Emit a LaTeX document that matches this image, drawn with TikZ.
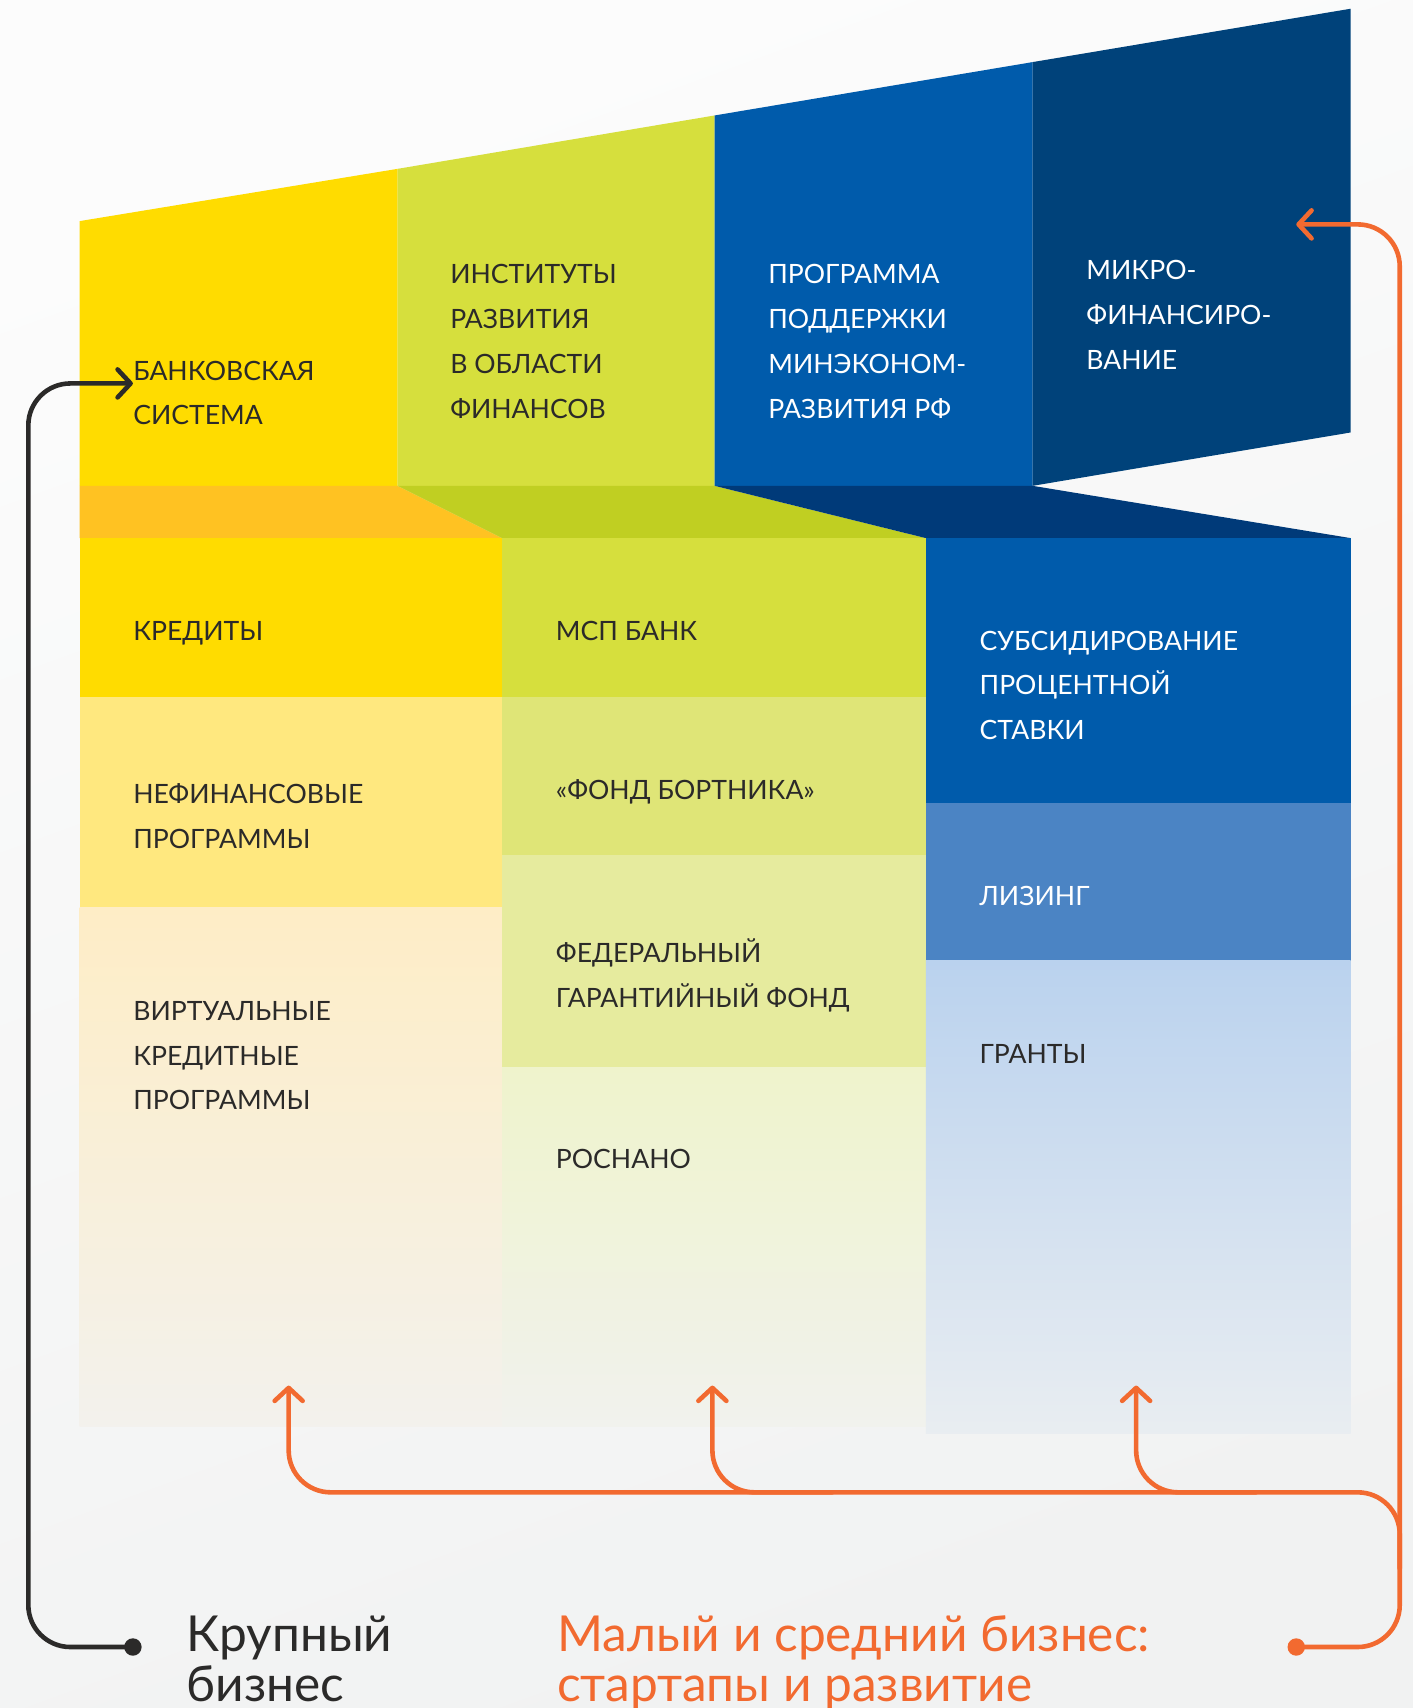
\documentclass[tikz,border=0pt]{standalone}
\usepackage{fontspec}
\setmainfont{Lato}
\usetikzlibrary{arrows.meta,calc}

\definecolor{ink}{HTML}{2B2A29}
\definecolor{accent}{HTML}{F26A30}
\definecolor{bgtop}{HTML}{FCFCFC}
\definecolor{bgbottom}{HTML}{F1F2F2}
\definecolor{bankcol}{HTML}{FFDC00}
\definecolor{bankband}{HTML}{FFC222}
\definecolor{instcol}{HTML}{D6DF3D}
\definecolor{instband}{HTML}{C0CF22}
\definecolor{progcol}{HTML}{005BAB}
\definecolor{progband}{HTML}{003A79}
\definecolor{microcol}{HTML}{00427A}
\definecolor{nonfincol}{HTML}{FFE87F}
\definecolor{virtcol}{HTML}{FEEDC6}
\definecolor{fundcol}{HTML}{DFE577}
\definecolor{fedcol}{HTML}{E6EB9E}
\definecolor{nanocol}{HTML}{EFF3CC}
\definecolor{leasecol}{HTML}{4B84C4}
\definecolor{grantcol}{HTML}{BAD2EE}

% nodes are placed by the baseline of their last line
\tikzset{
  boxtext/.style={anchor=base west, inner sep=0pt, align=left, text=ink,
    font=\fontsize{13.3}{22.4}\selectfont},
  whitetext/.style={boxtext, text=white},
  bigtext/.style={anchor=base west, inner sep=0pt, align=left,
    font=\fontsize{24.8}{25}\selectfont},
  track/.style={line width=2.3pt, rounded corners=21pt, line cap=round,
    line join=round},
  tip/.style={-{Straight Barb[length=6.5pt, width=14pt, round]}},
  tipback/.style={{Straight Barb[length=6.5pt, width=14pt, round]}-}
}

\begin{document}
\begin{tikzpicture}[x=0.5447pt, y=-0.5447pt]
  \useasboundingbox (0,0) rectangle (1297,1568);
  % background
  \shade[top color=bgtop, bottom color=bgbottom, shading angle=20]
    (0,0) rectangle (1297,1568);

  % upper panels
  \fill[bankcol] (73,203) -- (365,155) -- (365,446) -- (73,446) -- cycle;
  \fill[instcol] (365,155) -- (656,106) -- (656,446) -- (365,446) -- cycle;
  \fill[progcol] (656,106) -- (948,57) -- (948,446) -- (656,446) -- cycle;
  \fill[microcol] (948,57) -- (1240,8) -- (1240,397) -- (948,446) -- cycle;

  % folded bands
  \fill[bankband] (73,446) -- (365,446) -- (461,494) -- (73,494) -- cycle;
  \fill[instband] (365,446) -- (656,446) -- (850,494) -- (461,494) -- cycle;
  \fill[progband] (656,446) -- (948,446) -- (1240,494) -- (850,494) -- cycle;

  % lower columns
  \fill[bankcol] (73,494) rectangle (461,640);
  \fill[nonfincol] (73,640) rectangle (461,833);
  \shade[top color=virtcol, bottom color=bgbottom!88!virtcol]
    (73,833) rectangle (461,1310);
  \fill[instcol] (461,494) rectangle (850,640);
  \fill[fundcol] (461,640) rectangle (850,785);
  \fill[fedcol] (461,785) rectangle (850,980);
  \shade[top color=nanocol, bottom color=bgbottom!88!nanocol]
    (461,980) rectangle (850,1310);
  \fill[progcol] (850,494) rectangle (1240,737);
  \fill[leasecol] (850,737) rectangle (1240,882);
  \shade[top color=grantcol, bottom color=bgbottom!85!grantcol]
    (850,882) rectangle (1240,1316);

  % labels
  \node[boxtext] (bank) at (122,390) {БАНКОВСКАЯ\\СИСТЕМА};
  \node[boxtext] (inst) at (413,384) {ИНСТИТУТЫ\\РАЗВИТИЯ\\В ОБЛАСТИ\\ФИНАНСОВ};
  \node[whitetext] (prog) at (705,384) {ПРОГРАММА\\ПОДДЕРЖКИ\\МИНЭКОНОМ-\\РАЗВИТИЯ РФ};
  \node[whitetext] (micro) at (997,339) {МИКРО-\\ФИНАНСИРО-\\ВАНИЕ};
  \node[boxtext] (credit) at (122,588) {КРЕДИТЫ};
  \node[boxtext] (nonfin) at (122,779) {НЕФИНАНСОВЫЕ\\ПРОГРАММЫ};
  \node[boxtext] (virt) at (122,1019) {ВИРТУАЛЬНЫЕ\\КРЕДИТНЫЕ\\ПРОГРАММЫ};
  \node[boxtext] (msp) at (510,588) {МСП БАНК};
  \node[boxtext] (fund) at (510,734) {«ФОНД БОРТНИКА»};
  \node[boxtext] (fed) at (510,925) {ФЕДЕРАЛЬНЫЙ\\ГАРАНТИЙНЫЙ ФОНД};
  \node[boxtext] (nano) at (510,1073) {РОСНАНО};
  \node[whitetext] (subs) at (899,679) {СУБСИДИРОВАНИЕ\\ПРОЦЕНТНОЙ\\СТАВКИ};
  \node[whitetext] (lease) at (899,831) {ЛИЗИНГ};
  \node[boxtext] (grant) at (899,976) {ГРАНТЫ};

  \node[bigtext, text=ink] (large) at (171,1562) {Крупный\\бизнес};
  \node[bigtext, text=accent] (small) at (511,1562) {Малый и средний бизнес:\\стартапы и развитие};

  % connectors
  \coordinate (largedot) at (122,1512);
  \coordinate (smalldot) at (1190,1512);
  \coordinate (banktip) at (122,352);
  \coordinate (microtip) at (1190,206);
  \coordinate (leftturn) at (26,352);
  \coordinate (rightturn) at (1285,206);
  \coordinate (rail) at (1285,1370);
  \coordinate (railend) at (1285,1440);
  \coordinate (tipA) at (265,1272);
  \coordinate (tipB) at (654,1272);
  \coordinate (tipC) at (1043,1272);

  \draw[track, ink, tip] (largedot) -| (leftturn) -- (banktip);
  \fill[ink] (largedot) circle (8);

  \draw[track, accent, tip] (smalldot) -| (rightturn) -- (microtip);
  \draw[track, accent, tipback] (tipA) |- (rail) -- (railend);
  \draw[track, accent, tipback] (tipB) |- ($(tipB |- rail)+(110,0)$);
  \draw[track, accent, tipback] (tipC) |- ($(tipC |- rail)+(110,0)$);
  \fill[accent] (smalldot) circle (8);
\end{tikzpicture}
\end{document}
